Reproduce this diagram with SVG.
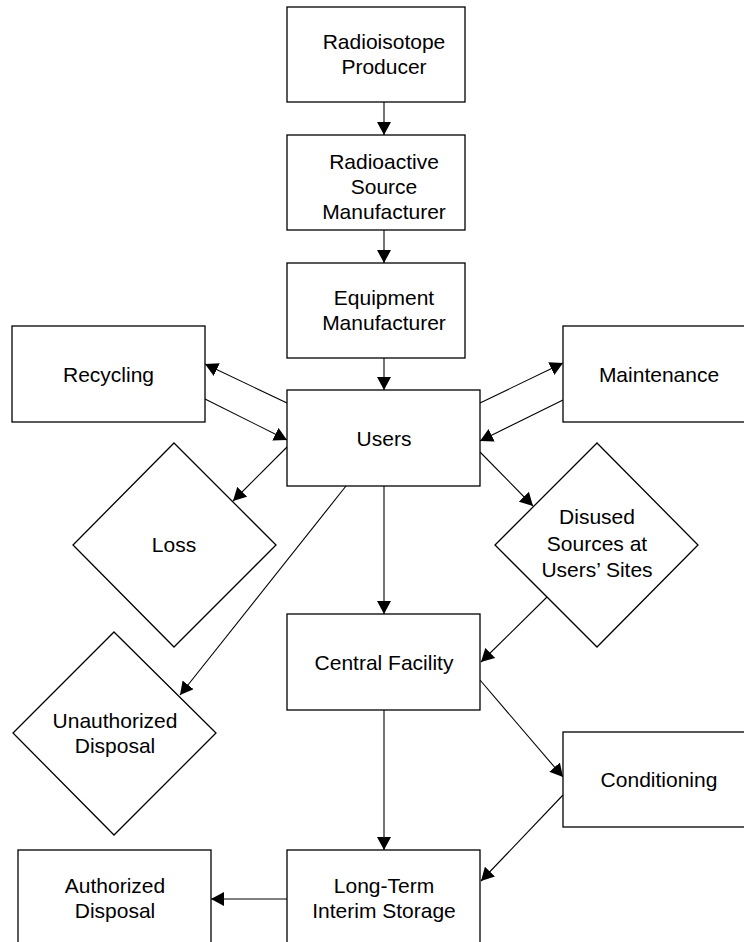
<svg xmlns="http://www.w3.org/2000/svg" width="744" height="942" viewBox="0 0 744 942">
<style>
.box{fill:#fff;stroke:#000;stroke-width:1.3}
.t{font-family:"Liberation Sans",Arial,sans-serif;font-size:21px;text-anchor:middle;fill:#000}
.c{stroke:#000;stroke-width:1.1;fill:none;marker-end:url(#ah)}
</style>
<defs>
<marker id="ah" viewBox="0 0 13 14" refX="13" refY="7" markerWidth="13" markerHeight="14" markerUnits="userSpaceOnUse" orient="auto">
<path d="M0,0 L13,7 L0,14 z" fill="#000"/>
</marker>
</defs>
<rect width="744" height="942" fill="#fff"/>
<g id="connectors">
<line class="c" x1="384" y1="102" x2="384" y2="135"/>
<line class="c" x1="384" y1="230" x2="384" y2="263"/>
<line class="c" x1="384" y1="358" x2="384" y2="390"/>
<line class="c" x1="287" y1="403" x2="205" y2="364"/>
<line class="c" x1="205" y1="399" x2="287" y2="440"/>
<line class="c" x1="287" y1="447" x2="233" y2="501"/>
<line class="c" x1="480" y1="403" x2="563" y2="363"/>
<line class="c" x1="563" y1="400" x2="480" y2="441"/>
<line class="c" x1="480" y1="452" x2="533" y2="506"/>
<line class="c" x1="547" y1="597" x2="481" y2="662"/>
<line class="c" x1="384" y1="486" x2="384" y2="614"/>
<line class="c" x1="346" y1="486" x2="180" y2="695"/>
<line class="c" x1="480" y1="680" x2="563" y2="777"/>
<line class="c" x1="563" y1="795" x2="481" y2="881"/>
<line class="c" x1="384" y1="710" x2="384" y2="850"/>
<line class="c" x1="287" y1="899" x2="211" y2="899"/>
</g>
<g id="radioisotope-producer">
<rect class="box" x="287" y="7" width="178" height="95"/>
<text class="t" x="384" y="49">Radioisotope</text>
<text class="t" x="384" y="74">Producer</text>
</g>
<g id="radioactive-source-manufacturer">
<rect class="box" x="287" y="135" width="178" height="95"/>
<text class="t" x="384" y="169">Radioactive</text>
<text class="t" x="384" y="194">Source</text>
<text class="t" x="384" y="219">Manufacturer</text>
</g>
<g id="equipment-manufacturer">
<rect class="box" x="287" y="263" width="178" height="95"/>
<text class="t" x="384" y="305">Equipment</text>
<text class="t" x="384" y="330">Manufacturer</text>
</g>
<g id="recycling">
<rect class="box" x="12" y="326" width="193" height="96"/>
<text class="t" x="108.5" y="381.5">Recycling</text>
</g>
<g id="users">
<rect class="box" x="287" y="390" width="193" height="96"/>
<text class="t" x="384" y="445.5">Users</text>
</g>
<g id="maintenance">
<rect class="box" x="563" y="326" width="193" height="96"/>
<text class="t" x="659" y="381.5">Maintenance</text>
</g>
<g id="loss">
<polygon class="box" points="174,443 276,545 174,647 73,545"/>
<text class="t" x="174" y="552">Loss</text>
</g>
<g id="disused-sources">
<polygon class="box" points="597,443 698,545 597,647 495,545"/>
<text class="t" x="597" y="524">Disused</text>
<text class="t" x="597" y="551">Sources at</text>
<text class="t" x="597" y="577">Users’ Sites</text>
</g>
<g id="central-facility">
<rect class="box" x="287" y="614" width="193" height="96"/>
<text class="t" x="384" y="669.5">Central Facility</text>
</g>
<g id="unauthorized-disposal">
<polygon class="box" points="114,632 216,733 114,835 13,733"/>
<text class="t" x="115" y="727.5">Unauthorized</text>
<text class="t" x="115" y="752.5">Disposal</text>
</g>
<g id="conditioning">
<rect class="box" x="563" y="732" width="193" height="95"/>
<text class="t" x="659" y="787">Conditioning</text>
</g>
<g id="long-term-interim-storage">
<rect class="box" x="287" y="850" width="193" height="100"/>
<text class="t" x="384" y="893">Long-Term</text>
<text class="t" x="384" y="918">Interim Storage</text>
</g>
<g id="authorized-disposal">
<rect class="box" x="18" y="850" width="193" height="100"/>
<text class="t" x="115" y="893">Authorized</text>
<text class="t" x="115" y="918">Disposal</text>
</g>
</svg>
